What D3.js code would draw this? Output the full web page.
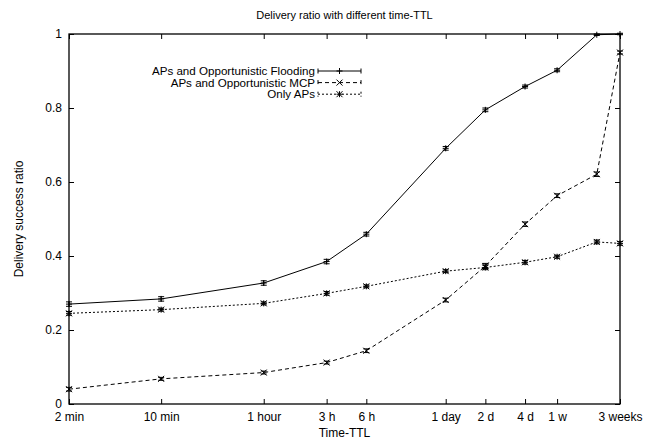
<!DOCTYPE html>
<html>
<head>
<meta charset="utf-8">
<script src="https://cdn.jsdelivr.net/npm/d3@7"></script>
<style>
  body { margin: 0; background: #fff; }
  svg { font-family: "Liberation Sans", Arial, sans-serif; }
  .axis path { display: none; }
  .axis line { stroke: #000; }
  .axis text { font-size: 12px; fill: #000; }
</style>
</head>
<body>
<svg id="chart" width="659" height="444"></svg>
<script>
// TTL in minutes (2 weeks point has no tick label)
var ttlMinutes = [2, 10, 60, 180, 360, 1440, 2880, 5760, 10080, 20160, 30240];
var tickMinutes = [2, 10, 60, 180, 360, 1440, 2880, 5760, 10080, 30240];
var tickLabels = ["2 min", "10 min", "1 hour", "3 h", "6 h", "1 day", "2 d", "4 d", "1 w", "3 weeks"];
var yTicks = [0, 0.2, 0.4, 0.6, 0.8, 1];

var seriesNames = ["APs and Opportunistic Flooding", "APs and Opportunistic MCP", "Only APs"];
var floodingValues = [0.270, 0.284, 0.327, 0.385, 0.459, 0.691, 0.795, 0.858, 0.902, 0.998, 1.0];
var floodingErrors = [0.006, 0.006, 0.006, 0.006, 0.005, 0.005, 0.005, 0.004, 0.004, 0.002, 0.002];
var mcpValues = [0.040, 0.068, 0.085, 0.112, 0.144, 0.281, 0.373, 0.486, 0.563, 0.621, 0.950];
var mcpErrors = [0.005, 0.004, 0.004, 0.004, 0.005, 0.005, 0.007, 0.006, 0.005, 0.006, 0.004];
var onlyApValues = [0.245, 0.255, 0.272, 0.299, 0.318, 0.359, 0.369, 0.383, 0.398, 0.438, 0.434];
var onlyApErrors = [0.005, 0.004, 0.004, 0.005, 0.004, 0.004, 0.006, 0.005, 0.004, 0.005, 0.005];

var svg = d3.select("#chart"),
  margin = {top: 34, right: 39, bottom: 40, left: 69},
  width = +svg.attr("width") - margin.left - margin.right,
  height = +svg.attr("height") - margin.top - margin.bottom,
  g = svg.append("g").attr("transform", "translate(" + margin.left + "," + margin.top + ")");

var x = d3.scaleLog().domain([2, 30240]).range([0, width]);
var y = d3.scaleLinear().domain([0, 1]).range([height, 0]);

// axes, ticks point inward and are mirrored
g.append("g").attr("class", "axis")
  .attr("transform", "translate(0," + height + ")")
  .call(d3.axisBottom(x).tickValues(tickMinutes)
    .tickFormat(function(d, i) { return tickLabels[i]; })
    .tickSizeInner(-5).tickSizeOuter(0).tickPadding(8));
g.append("g").attr("class", "axis")
  .call(d3.axisTop(x).tickValues(tickMinutes).tickFormat("")
    .tickSizeInner(-5).tickSizeOuter(0));
g.append("g").attr("class", "axis")
  .call(d3.axisLeft(y).tickValues(yTicks)
    .tickFormat(function(d) { return d === 0 || d === 1 ? d : d.toFixed(1); })
    .tickSizeInner(-5).tickSizeOuter(0).tickPadding(7));
g.append("g").attr("class", "axis")
  .attr("transform", "translate(" + width + ",0)")
  .call(d3.axisRight(y).tickValues(yTicks).tickFormat("")
    .tickSizeInner(-5).tickSizeOuter(0));

g.append("rect")
  .attr("width", width).attr("height", height)
  .attr("fill", "none").attr("stroke", "#000").attr("stroke-width", 1.3);

svg.append("text")
  .attr("x", margin.left + width / 2).attr("y", 19)
  .attr("text-anchor", "middle").attr("font-size", 11)
  .text("Delivery ratio with different time-TTL");
svg.append("text")
  .attr("x", margin.left + width / 2).attr("y", 437)
  .attr("text-anchor", "middle").attr("font-size", 12)
  .text("Time-TTL");
svg.append("text")
  .attr("transform", "translate(23," + (margin.top + height / 2) + ") rotate(-90)")
  .attr("text-anchor", "middle").attr("font-size", 12)
  .text("Delivery success ratio");

function drawMarker(sel, type, cx, cy) {
  var s = 3;
  var p = d3.path();
  if (type === "plus" || type === "star") {
    p.moveTo(cx - s, cy); p.lineTo(cx + s, cy);
    p.moveTo(cx, cy - s); p.lineTo(cx, cy + s);
  }
  if (type === "cross" || type === "star") {
    p.moveTo(cx - s, cy - s); p.lineTo(cx + s, cy + s);
    p.moveTo(cx - s, cy + s); p.lineTo(cx + s, cy - s);
  }
  sel.append("path").attr("d", p.toString())
    .attr("stroke", "#000").attr("stroke-width", 1).attr("fill", "none");
}

var series = [
  {name: seriesNames[0], values: floodingValues, errors: floodingErrors, dash: null, marker: "plus"},
  {name: seriesNames[1], values: mcpValues, errors: mcpErrors, dash: "4,3", marker: "cross"},
  {name: seriesNames[2], values: onlyApValues, errors: onlyApErrors, dash: "2,2", marker: "star"}
];

var line = d3.line()
  .x(function(d) { return x(d.t); })
  .y(function(d) { return y(d.v); });

series.forEach(function(s) {
  var pts = ttlMinutes.map(function(t, i) { return {t: t, v: s.values[i], e: s.errors[i]}; });
  g.append("path").datum(pts)
    .attr("d", line)
    .attr("fill", "none").attr("stroke", "#000").attr("stroke-width", 1)
    .attr("stroke-dasharray", s.dash);
  var eb = g.append("g");
  pts.forEach(function(d) {
    var cx = x(d.t), y0 = y(d.v - d.e), y1 = y(d.v + d.e);
    eb.append("path")
      .attr("d", "M" + cx + "," + y0 + "V" + y1 +
        "M" + (cx - 3) + "," + y0 + "H" + (cx + 3) +
        "M" + (cx - 3) + "," + y1 + "H" + (cx + 3))
      .attr("stroke", "#000").attr("stroke-width", 1).attr("fill", "none");
    drawMarker(eb, s.marker, cx, y(d.v));
  });
});

// legend
var legend = svg.append("g");
series.forEach(function(s, i) {
  var ly = 71 + i * 11.6;
  legend.append("text")
    .attr("x", 315).attr("y", ly).attr("dy", "0.35em")
    .attr("text-anchor", "end").attr("font-size", 11.6)
    .text(s.name);
  legend.append("path")
    .attr("d", "M318," + ly + "H361M318," + (ly - 2.5) + "V" + (ly + 2.5) +
      "M361," + (ly - 2.5) + "V" + (ly + 2.5))
    .attr("stroke", "#000").attr("stroke-width", 1).attr("fill", "none")
    .attr("stroke-dasharray", s.dash);
  drawMarker(legend, s.marker, 339.5, ly);
});
</script>
</body>
</html>
